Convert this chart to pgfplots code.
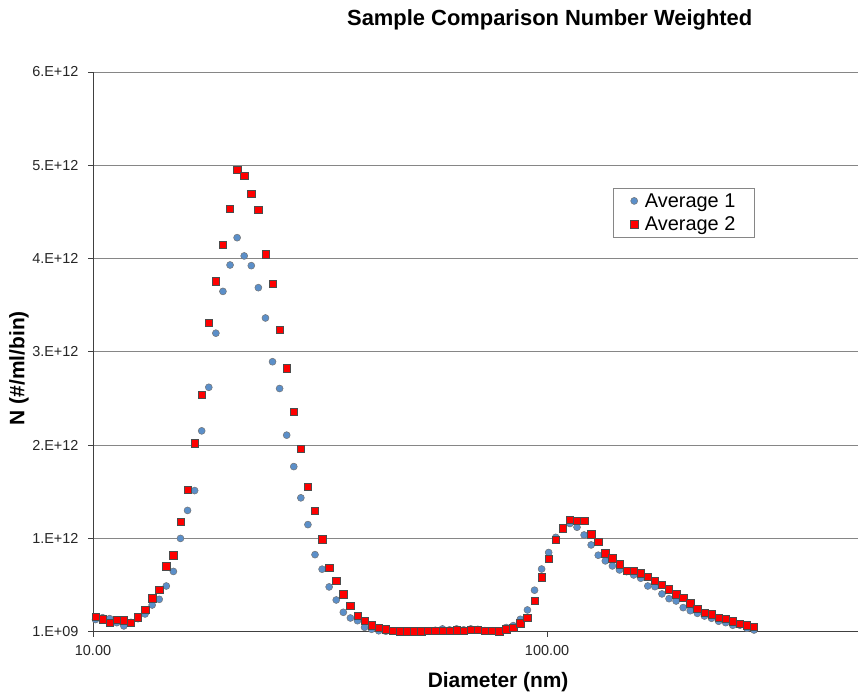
\documentclass[border=0pt]{standalone}
\usepackage{pgfplots}
\pgfplotsset{compat=1.18}
\usepackage{pgfplotstable}
\usepackage{fontspec}
\setmainfont{Liberation Sans}
\definecolor{avgblue}{HTML}{5B8FC9}
\definecolor{gridgray}{HTML}{868686}
\pgfplotstableread{
D A1 A2
10.128 0.130 0.161
10.498 0.150 0.133
10.882 0.140 0.097
11.280 0.097 0.126
11.692 0.062 0.122
12.120 0.100 0.093
12.563 0.140 0.154
13.022 0.190 0.233
13.499 0.286 0.358
13.992 0.347 0.447
14.504 0.490 0.700
15.034 0.646 0.818
15.583 1.000 1.180
16.153 1.300 1.520
16.744 1.513 2.020
17.356 2.153 2.540
17.990 2.620 3.310
18.648 3.200 3.755
19.330 3.648 4.149
20.036 3.931 4.532
20.769 4.224 4.954
21.528 4.028 4.886
22.315 3.924 4.693
23.131 3.688 4.525
23.977 3.363 4.045
24.854 2.894 3.731
25.762 2.607 3.237
26.704 2.107 2.826
27.680 1.770 2.361
28.692 1.435 1.964
29.741 1.148 1.553
30.829 0.826 1.298
31.956 0.670 0.991
33.124 0.480 0.683
34.335 0.340 0.544
35.590 0.208 0.401
36.892 0.147 0.276
38.240 0.118 0.168
39.638 0.047 0.118
41.087 0.026 0.069
42.590 0.010 0.040
44.147 0.005 0.026
45.761 0.005 0.012
47.434 0.004 0.006
49.168 0.005 0.005
50.966 0.006 0.005
52.829 0.008 0.006
54.760 0.010 0.008
56.762 0.015 0.010
58.837 0.030 0.012
60.988 0.020 0.012
63.218 0.030 0.015
65.529 0.020 0.012
67.925 0.030 0.018
70.408 0.025 0.018
72.983 0.012 0.008
75.651 0.010 0.008
78.416 0.008 0.005
81.283 0.045 0.026
84.255 0.065 0.040
87.335 0.133 0.090
90.528 0.233 0.150
93.838 0.445 0.333
97.269 0.672 0.582
100.825 0.849 0.782
104.511 1.011 0.987
108.332 1.100 1.109
112.292 1.160 1.198
116.398 1.120 1.188
120.653 1.037 1.188
125.064 0.930 1.045
129.637 0.820 0.966
134.376 0.759 0.841
139.289 0.705 0.788
144.381 0.662 0.723
149.660 0.644 0.651
155.132 0.608 0.651
160.803 0.573 0.627
166.682 0.490 0.590
172.776 0.483 0.544
179.092 0.405 0.501
185.640 0.354 0.455
192.427 0.329 0.401
199.462 0.258 0.365
206.754 0.225 0.305
214.313 0.197 0.244
222.148 0.168 0.204
230.270 0.144 0.187
238.689 0.112 0.147
247.415 0.097 0.136
256.461 0.069 0.112
265.837 0.070 0.086
275.556 0.036 0.069
285.630 0.018 0.054
}\datatable
\begin{document}
\begin{tikzpicture}
\path[use as bounding box] (0bp,0bp) rectangle (858bp,695bp);
\begin{axis}[
  at={(93bp,63.3bp)}, anchor=south west,
  scale only axis, width=765bp, height=559.7bp,
  xmode=log, xmin=10, xmax=484, ymin=0, ymax=6,
  axis x line=bottom, axis y line=left,
  axis line style={-, black!75, line width=0.8bp},
  xtick={10,100}, xticklabels={10.00,100.00},
  xminorticks=false,
  ytick={0,1,2,3,4,5,6},
  yticklabels={1.E+09,1.E+12,2.E+12,3.E+12,4.E+12,5.E+12,6.E+12},
  tick align=outside, major tick length=5bp,
  tick style={black!75, line width=0.8bp},
  ymajorgrids, grid style={gridgray, line width=0.8bp},
  tick label style={font=\fontsize{14.5}{16}\selectfont, text=black!85},
  xticklabel style={yshift=-5bp},
  yticklabel style={xshift=-6bp},
  title={Sample Comparison Number Weighted},
  title style={at={(axis description cs:0.597,1.0822)}, anchor=center, font=\fontsize{22}{26}\selectfont\bfseries},
  xlabel={Diameter (nm)},
  xlabel style={at={(axis description cs:0.5296,-0.0899)}, anchor=center, font=\fontsize{21}{25}\selectfont\bfseries},
  ylabel={N (\#/ml/bin)},
  ylabel style={at={(axis description cs:-0.0967,0.471)}, anchor=center, rotate=0, font=\fontsize{21}{25}\selectfont\bfseries},
  legend style={at={(axis description cs:0.68,0.7927)}, anchor=north west, draw=gridgray, line width=0.6bp,
    font=\fontsize{20}{24}\selectfont, inner xsep=17bp, inner ysep=3bp, row sep=4bp,
    /tikz/every odd column/.append style={column sep=5bp}},
  legend cell align=left,
]
\addplot[only marks, mark=*, mark size=3.5bp, mark options={fill=avgblue, draw=black!55, line width=0.5bp}] table[x=D,y=A1]{\datatable};
\addlegendentry{Average 1}
\addplot[only marks, mark=square*, mark size=3.7bp, mark options={fill=red, draw=black!70, line width=0.5bp}] table[x=D,y=A2]{\datatable};
\addlegendentry{Average 2}
\end{axis}
\end{tikzpicture}
\end{document}
